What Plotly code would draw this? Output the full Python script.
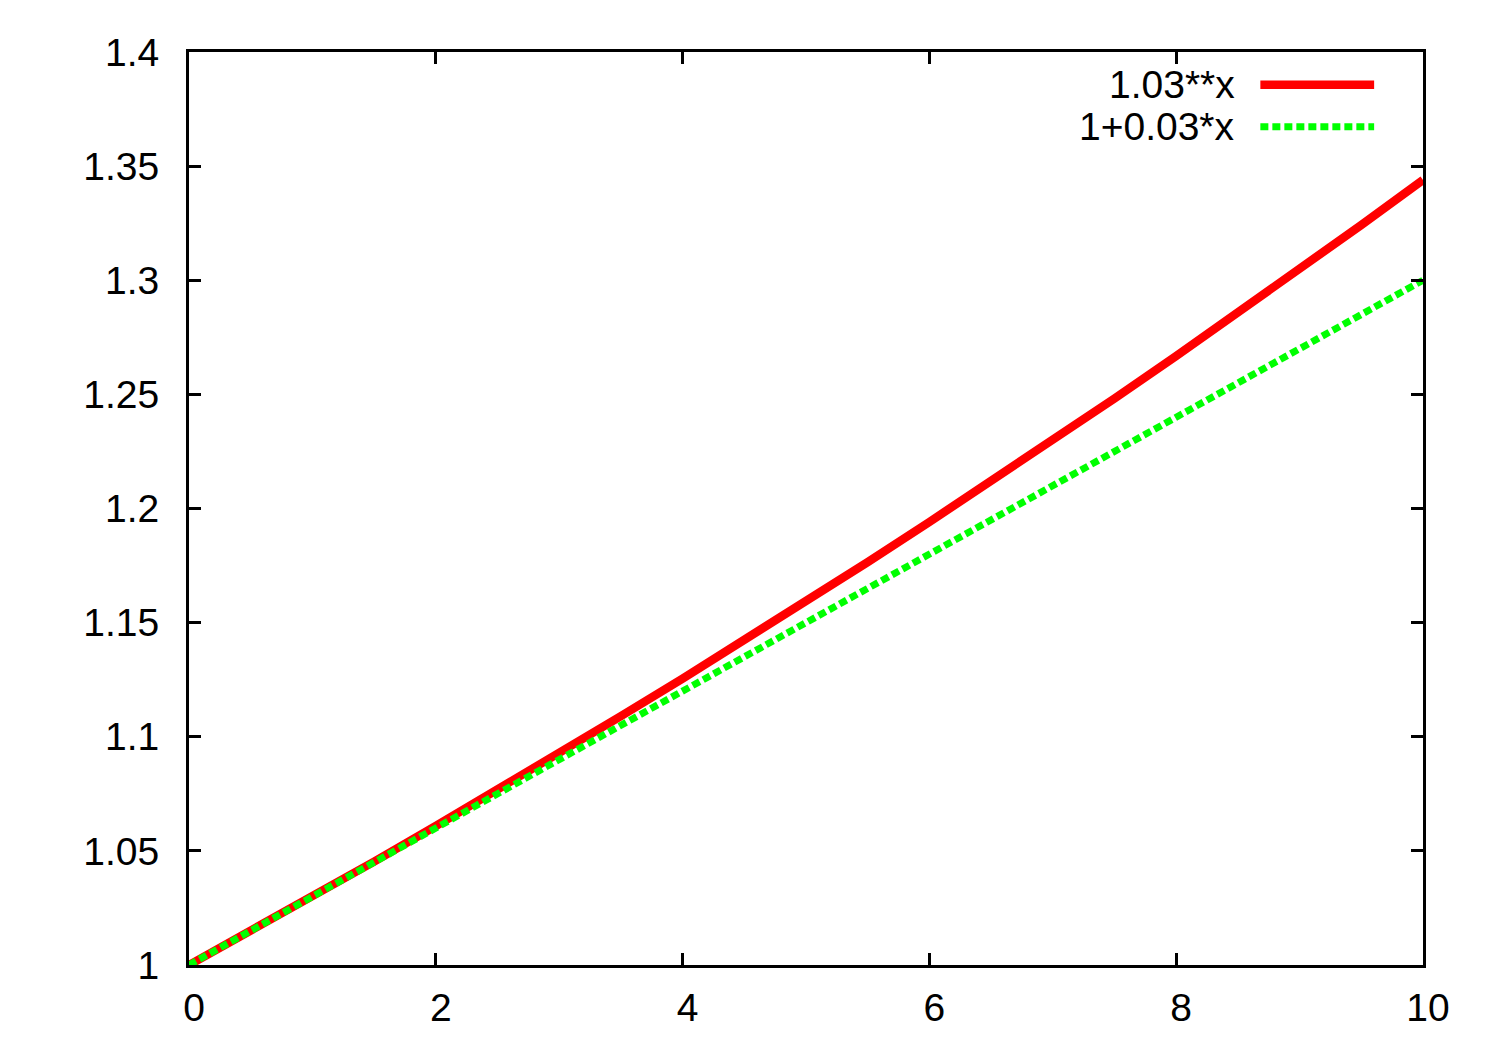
import plotly.graph_objects as go

x_vals = [0, 0.5, 1, 1.5, 2, 2.5, 3, 3.5, 4, 4.5, 5, 5.5, 6, 6.5, 7, 7.5, 8, 8.5, 9, 9.5, 10]
exp_vals = [1.0, 1.0149, 1.03, 1.0453, 1.0609, 1.0767, 1.0927, 1.1090, 1.1255, 1.1423,
            1.1593, 1.1765, 1.1941, 1.2118, 1.2299, 1.2482, 1.2668, 1.2856, 1.3048, 1.3242, 1.3439]
lin_vals = [1.0, 1.015, 1.03, 1.045, 1.06, 1.075, 1.09, 1.105, 1.12, 1.135,
            1.15, 1.165, 1.18, 1.195, 1.21, 1.225, 1.24, 1.255, 1.27, 1.285, 1.30]
series_names = ["1.03**x", "1+0.03*x"]
y_ticks = [1, 1.05, 1.1, 1.15, 1.2, 1.25, 1.3, 1.35, 1.4]
y_tick_text = ["1", "1.05", "1.1", "1.15", "1.2", "1.25", "1.3", "1.35", "1.4"]
x_ticks = [0, 2, 4, 6, 8, 10]
x_tick_text = ["0", "2", "4", "6", "8", "10"]

FONT = "Liberation Sans, Arial, Helvetica, sans-serif"
FSIZE = 39
RED = "#ff0000"
GREEN = "#00ff00"

fig = go.Figure()
fig.add_trace(go.Scatter(x=x_vals, y=exp_vals, mode="lines", name=series_names[0],
                         line=dict(color=RED, width=8.5), showlegend=False))
fig.add_trace(go.Scatter(x=x_vals, y=lin_vals, mode="lines", name=series_names[1],
                         line=dict(color=GREEN, width=7, dash="8px,4px"), showlegend=False))

axis_common = dict(showline=True, linecolor="black", linewidth=3, mirror="ticks",
                   ticks="inside", ticklen=12, tickwidth=2.5, tickcolor="black",
                   showgrid=False, zeroline=False,
                   tickfont=dict(family=FONT, size=FSIZE, color="black"))

fig.update_xaxes(range=[0, 10], tickvals=x_ticks, ticktext=x_tick_text,
                 ticklabelstandoff=6, ticklabelshift=5, **axis_common)
fig.update_yaxes(range=[1, 1.4], tickvals=y_ticks, ticktext=y_tick_text,
                 ticklabelstandoff=19, **axis_common)

# legend drawn gnuplot-style: text right-aligned, sample to the right
legend_rows = [(0.9640, series_names[0], RED, "solid", 8.5),
               (0.9181, series_names[1], GREEN, "8px,4px", 7)]
for ypos, name, col, dash, w in legend_rows:
    fig.add_annotation(xref="paper", yref="paper", x=0.8496, y=ypos, text=name,
                       showarrow=False, xanchor="right", yanchor="middle",
                       font=dict(family=FONT, size=FSIZE, color="black"))
    fig.add_shape(type="line", xref="paper", yref="paper", x0=0.8682, x1=0.9604,
                  y0=ypos, y1=ypos, line=dict(color=col, width=w, dash=dash))

fig.update_layout(width=1500, height=1050, paper_bgcolor="white", plot_bgcolor="white",
                  margin=dict(l=181, r=85, t=44, b=93))
fig.write_html("out.html")
